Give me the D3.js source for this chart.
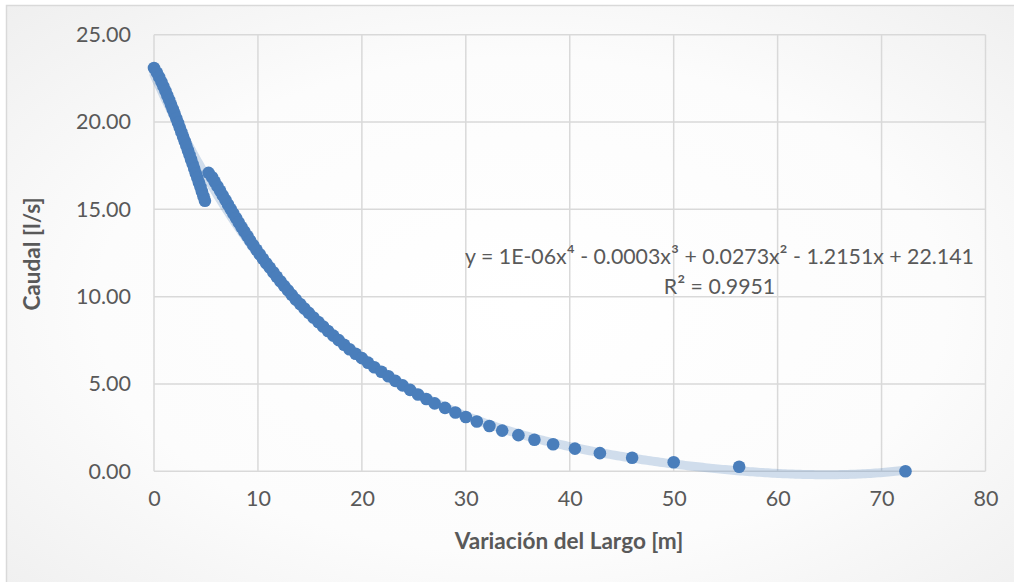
<!DOCTYPE html>
<html><head><meta charset="utf-8">
<script src="https://cdn.jsdelivr.net/npm/d3@7"></script>
<style>
body{margin:0;background:#fff;}
svg text{font-family:Lato,'Open Sans',sans-serif;}
</style>
</head><body>
<svg id="chart" width="1014" height="582"></svg>
<script>
// ---- data ----
const seg1X = [0.00,0.28,0.50,0.71,0.91,1.10,1.28,1.46,1.64,1.81,1.98,2.15,2.31,2.48,2.64,2.80,2.96,3.11,3.27,3.42,3.57,3.72,3.87,4.02,4.17,4.32,4.47,4.61,4.76,4.90];
const seg1Y = [23.09,22.83,22.57,22.30,22.04,21.78,21.52,21.26,20.99,20.73,20.47,20.21,19.95,19.68,19.42,19.16,18.90,18.64,18.37,18.11,17.85,17.59,17.33,17.06,16.80,16.54,16.28,16.02,15.75,15.49];
const seg2X = [5.25,5.59,5.84,6.10,6.36,6.61,6.87,7.12,7.37,7.63,
  7.89,8.15,8.41,8.69,8.98,9.26,9.55,9.86,10.17,10.48,
  10.80,11.14,11.48,11.81,12.16,12.52,12.89,13.25,13.64,14.06,
  14.47,14.89,15.34,15.81,16.27,16.74,17.25,17.77,18.29,18.81,
  19.40,20.00,20.59,21.20,21.88,22.55,23.22,23.92,24.64,25.40,
  26.20,27.00,28.00,29.00,30.00,31.06,32.27,33.50,35.06,36.60,
  38.40,40.50,42.90,46.00,50.00,56.30,72.30];
const seg2Y = [17.09,16.84,16.58,16.32,16.06,15.80,15.54,15.28,15.02,14.76,
  14.50,14.25,13.99,13.73,13.47,13.21,12.95,12.69,12.43,12.17,
  11.91,11.66,11.40,11.14,10.88,10.62,10.36,10.10,9.84,9.58,
  9.32,9.07,8.81,8.55,8.29,8.03,7.77,7.51,7.25,6.99,
  6.73,6.48,6.22,5.96,5.70,5.44,5.18,4.92,4.66,4.40,
  4.14,3.89,3.63,3.37,3.11,2.85,2.59,2.33,2.07,1.81,
  1.55,1.30,1.04,0.78,0.52,0.26,0.00];
const xTicks = [0,10,20,30,40,50,60,70,80];
const yTicks = [0,5,10,15,20,25];
const xTitle = "Variación del Largo [m]";
const yTitle = "Caudal [l/s]";
const eqParts = [["y = 1E-06x",false],["⁴",true],[" - 0.0003x",false],["³",true],[" + 0.0273x",false],["²",true],[" - 1.2151x + 22.141",false]];
const eqLine2 = [["R",false],["²",true],[" = 0.9951",false]];

// ---- setup ----
const svg = d3.select("#chart");
const x = d3.scaleLinear().domain([0,80]).range([154,985.5]);
const y = d3.scaleLinear().domain([0,25]).range([471.3,34.7]);
const textCol = "#595959", gridCol = "#d9d9d9", dotCol = "#4a7ebb";
const FONT = "Lato,'Open Sans',sans-serif";

const defs = svg.append("defs");
const rg = defs.append("radialGradient").attr("id","bg").attr("cx","50%").attr("cy","50%").attr("r","75%");
rg.append("stop").attr("offset","0%").attr("stop-color","#ffffff");
rg.append("stop").attr("offset","55%").attr("stop-color","#fcfcfc");
rg.append("stop").attr("offset","100%").attr("stop-color","#ededed");

svg.append("rect").attr("x",6.5).attr("y",5.5).attr("width",1030).attr("height",600)
  .attr("fill","url(#bg)").attr("stroke",gridCol).attr("stroke-width",1.5);

// gridlines
svg.append("g").selectAll("line").data(xTicks).join("line")
  .attr("x1",d=>x(d)).attr("x2",d=>x(d)).attr("y1",y(25)).attr("y2",y(0))
  .attr("stroke",gridCol).attr("stroke-width",1.5);
svg.append("g").selectAll("line").data(yTicks).join("line")
  .attr("x1",x(0)).attr("x2",x(80)).attr("y1",d=>y(d)).attr("y2",d=>y(d))
  .attr("stroke",gridCol).attr("stroke-width",1.5);

// axes labels via d3 axes
const xAxis = d3.axisBottom(x).tickValues(xTicks).tickFormat(d3.format("d")).tickSize(0).tickPadding(19);
const gx = svg.append("g").attr("transform",`translate(0,${y(0)})`).call(xAxis);
const yAxis = d3.axisLeft(y).tickValues(yTicks).tickFormat(d3.format(".2f")).tickSize(0).tickPadding(23);
const gy = svg.append("g").attr("transform",`translate(${x(0)},0)`).call(yAxis);
[gx,gy].forEach(g=>{
  g.select(".domain").remove();
  g.selectAll("text").attr("fill",textCol).style("font-size","21.5px").style("font-family",FONT);
});

// polynomial (order 4) least-squares trendline over all points
const allX = seg1X.concat(seg2X), allY = seg1Y.concat(seg2Y);
function polyfit(xs, ys, deg){
  const n = deg+1, A = [], b = [];
  for(let i=0;i<n;i++){A.push(new Array(n).fill(0)); b.push(0);}
  xs.forEach((xv,k)=>{
    const t = xv/10;
    for(let i=0;i<n;i++){
      b[i] += ys[k]*Math.pow(t,i);
      for(let j=0;j<n;j++) A[i][j] += Math.pow(t,i+j);
    }
  });
  for(let c=0;c<n;c++){
    let p=c; for(let r=c+1;r<n;r++) if(Math.abs(A[r][c])>Math.abs(A[p][c])) p=r;
    [A[c],A[p]]=[A[p],A[c]]; [b[c],b[p]]=[b[p],b[c]];
    for(let r=c+1;r<n;r++){ const f=A[r][c]/A[c][c]; for(let j=c;j<n;j++) A[r][j]-=f*A[c][j]; b[r]-=f*b[c]; }
  }
  const coef=new Array(n).fill(0);
  for(let r=n-1;r>=0;r--){ let s=b[r]; for(let j=r+1;j<n;j++) s-=A[r][j]*coef[j]; coef[r]=s/A[r][r]; }
  return xv=>coef.reduce((s,c,i)=>s+c*Math.pow(xv/10,i),0);
}
const fit = polyfit(allX, allY, 4);
const xMin = d3.min(allX), xMax = d3.max(allX);
const trendPts = d3.range(xMin, xMax+0.001, (xMax-xMin)/300).map(v=>[v, fit(v)]);
svg.append("path").datum(trendPts)
  .attr("d", d3.line().x(d=>x(d[0])).y(d=>y(d[1])))
  .attr("fill","none").attr("stroke",dotCol).attr("stroke-opacity",0.25)
  .attr("stroke-width",9).attr("stroke-linecap","round");

// scatter points
const pts = allX.map((v,i)=>({x:v, y:allY[i]}));
svg.append("g").selectAll("circle").data(pts).join("circle")
  .attr("cx",d=>x(d.x)).attr("cy",d=>y(d.y)).attr("r",6.3).attr("fill",dotCol);

// trendline label
function richLine(parts, cx, cy){
  const t = svg.append("text").attr("x",cx).attr("y",cy).attr("text-anchor","middle")
    .attr("fill",textCol).style("font-size","21.3px").style("font-family",FONT);
  parts.forEach(([s,sup])=>{
    const ts = t.append("tspan").text(s);
    if(sup) ts.style("font-size","24px");
  });
  return t;
}
richLine(eqParts, 719.5, 264);
richLine(eqLine2, 719.5, 294);

// axis titles
svg.append("text").attr("x",569).attr("y",549).attr("text-anchor","middle")
  .attr("fill",textCol).style("font-size","22.6px").style("font-weight","bold").text(xTitle);
svg.append("text").attr("transform","translate(40,254) rotate(-90)").attr("text-anchor","middle")
  .attr("fill",textCol).style("font-size","22.6px").style("font-weight","bold").text(yTitle);
</script>
</body></html>
